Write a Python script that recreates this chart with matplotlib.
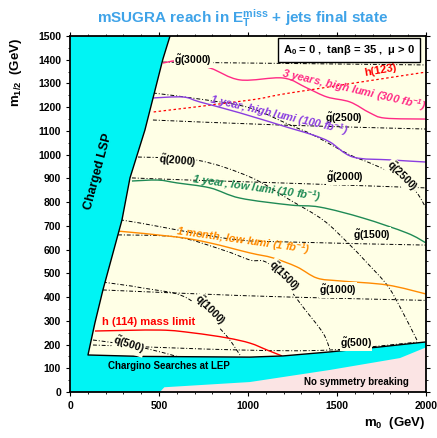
import matplotlib
matplotlib.use("Agg")
import matplotlib.pyplot as plt
import numpy as np
from matplotlib.ticker import MultipleLocator
from matplotlib.path import Path
from matplotlib.patches import PathPatch

plt.rcParams['font.family'] = ['Liberation Sans', 'DejaVu Sans']
plt.rcParams['font.weight'] = 'bold'
plt.rcParams['mathtext.fontset'] = 'custom'
plt.rcParams['mathtext.rm'] = 'Liberation Sans:bold'
plt.rcParams['mathtext.it'] = 'Liberation Sans:bold:italic'
plt.rcParams['mathtext.bf'] = 'Liberation Sans:bold'

# ---- excluded regions ----
lsp_m0 = [562, 522, 421, 337, 292, 185, 140, 101]
lsp_m12 = [1500, 1403, 1104, 902, 725, 430, 291, 156]
lep_m0 = [101, 400, 1011, 1197, 1461, 1742, 2000]
lep_m12 = [156, 150, 147, 152, 169, 190, 211]
nosb_m0 = [505, 530, 1011, 1461, 1854, 2000]
nosb_m12 = [0, 20, 42, 93, 143, 188]

# ---- 5 sigma discovery contours ----
reach_300_m0 = [522, 618, 787, 955, 1197, 1331, 1444, 1573, 1685, 1770, 2000]
reach_300_m12 = [1386, 1395, 1365, 1315, 1323, 1281, 1243, 1222, 1176, 1154, 1150]
reach_100_m0 = [466, 635, 730, 955, 1236, 1365, 1461, 1590, 1798, 2000]
reach_100_m12 = [1239, 1243, 1222, 1176, 1112, 1083, 1053, 990, 978, 969]
reach_10_m0 = [348, 494, 601, 787, 955, 1236, 1404, 1646, 1893, 2000]
reach_10_m12 = [889, 893, 881, 860, 817, 788, 779, 733, 670, 628]
reach_1_m0 = [270, 601, 787, 1011, 1140, 1275, 1388, 1517, 1781, 2000]
reach_1_m12 = [678, 653, 628, 586, 565, 527, 480, 468, 451, 413]

# ---- Higgs mass contours ----
h114_m0 = [140, 506, 691, 882, 1011, 1107, 1191]
h114_m12 = [257, 261, 249, 228, 206, 177, 152]
h123_m0 = [470, 1011, 1236, 2000]
h123_m12 = [1180, 1230, 1260, 1348]

# ---- gluino iso-mass lines ----
gluino_masses = [500, 1000, 1500, 2000, 2500, 3000]
gluino_m0 = [[129, 955, 1461, 1949],
             [185, 730, 1236, 2000],
             [281, 393, 899, 1236, 2000],
             [348, 674, 1180, 2000],
             [466, 1180, 2000],
             [522, 1011, 2000]]
gluino_m12 = [[198, 177, 177, 210],
              [430, 413, 400, 386],
              [725, 712, 645, 632, 619],
              [902, 893, 881, 860],
              [1146, 1125, 1108],
              [1390, 1386, 1378]]
gluino_label_m0 = [1607, 1506, 1697, 1545, 1539, 693]
gluino_label_m12 = [206, 430, 662, 906, 1155, 1399]

# ---- squark iso-mass lines ----
squark_masses = [500, 1000, 1500, 2000, 2500]
squark_m0 = [[129, 250, 420, 600],
             [185, 410, 657, 860, 955],
             [270, 601, 860, 1011, 1124, 1309, 1421, 1461],
             [382, 713, 1011, 1236, 1421, 1556, 1669, 1781, 1854, 1949],
             [466, 770, 1011, 1236, 1365, 1573, 1685, 1865, 1949, 2000]]
squark_m12 = [[219, 207, 185, 150],
              [463, 438, 396, 253, 156],
              [662, 653, 598, 556, 535, 358, 249, 177],
              [990, 977, 906, 809, 725, 632, 544, 451, 358, 219],
              [1260, 1230, 1197, 1125, 1083, 999, 965, 902, 839, 775]]
squark_label_m0 = [331, 787, 1202, 601, 1865]
squark_label_m12 = [198, 345, 489, 973, 910]
squark_label_rot = [-18, -45, -45, -5, -45]

bg = '#ffffe6'
cyan = '#00f4f4'
pink_fill = '#fbe4e4'


def smooth_curve(ax, xs, ys, **kw):
    """Draw a curve through the given points as a Catmull-Rom cubic Bezier path."""
    p = np.column_stack([xs, ys]).astype(float)
    verts = [p[0]]
    codes = [Path.MOVETO]
    n = len(p)
    for i in range(n - 1):
        p0 = p[i - 1] if i > 0 else p[i]
        p1, p2 = p[i], p[i + 1]
        p3 = p[i + 2] if i + 2 < n else p[i + 1]
        c1 = p1 + (p2 - p0) / 6.0
        c2 = p2 - (p3 - p1) / 6.0
        verts += [c1, c2, p2]
        codes += [Path.CURVE4] * 3
    ax.add_patch(PathPatch(Path(verts, codes), fill=False, **kw))


fig = plt.figure(figsize=(4.37, 4.38), dpi=100)
ax = fig.add_axes([70/437, 1 - 392/438, 356/437, 356/438])
ax.set_facecolor(bg)
ax.set_xlim(0, 2000)
ax.set_ylim(0, 1500)

dashdot = (0, (4, 2, 1, 2))
for xs, ys in zip(gluino_m0, gluino_m12):
    smooth_curve(ax, xs, ys, edgecolor='black', lw=0.7, ls=dashdot, zorder=2)
for xs, ys in zip(squark_m0, squark_m12):
    smooth_curve(ax, xs, ys, edgecolor='black', lw=0.7, ls=dashdot, zorder=2)

smooth_curve(ax, h123_m0, h123_m12, edgecolor='red', lw=0.9, ls=(0, (2, 2)), zorder=3)
smooth_curve(ax, h114_m0, h114_m12, edgecolor='red', lw=1.0, zorder=3)
smooth_curve(ax, reach_300_m0, reach_300_m12, edgecolor='#ff2a85', lw=1.0, zorder=3)
smooth_curve(ax, reach_100_m0, reach_100_m12, edgecolor='#8a3ee0', lw=1.0, zorder=3)
smooth_curve(ax, reach_10_m0, reach_10_m12, edgecolor='#1f8a55', lw=1.0, zorder=3)
smooth_curve(ax, reach_1_m0, reach_1_m12, edgecolor='#ff8a00', lw=1.0, zorder=3)

# excluded area: charged LSP + LEP chargino searches
region_x = [0, 0] + lsp_m0 + lep_m0[1:] + [2000]
region_y = [0, 1500] + lsp_m12 + lep_m12[1:] + [0]
ax.fill(region_x, region_y, color=cyan, lw=0, zorder=4)
ax.fill(nosb_m0 + [2000], nosb_m12 + [0], color=pink_fill, lw=0, zorder=4)
ax.plot(lsp_m0 + lep_m0[1:], lsp_m12 + lep_m12[1:], color='black', lw=1.0, zorder=5)

lab_bbox = dict(facecolor=bg, edgecolor='none', pad=0.3)
for m, x, y in zip(gluino_masses, gluino_label_m0, gluino_label_m12):
    ax.text(x, y, r'$\tilde{\mathrm{g}}$(%d)' % m, fontsize=7.5, ha='center', va='center',
            bbox=lab_bbox, zorder=6)
for m, x, y, r in zip(squark_masses, squark_label_m0, squark_label_m12, squark_label_rot):
    ax.text(x, y, r'$\tilde{\mathrm{q}}$(%d)' % m, fontsize=7.5, ha='center', va='center',
            rotation=r, rotation_mode='anchor', bbox=lab_bbox, zorder=6)

ax.text(1742, 1357, 'h(123)', color='red', fontsize=8, rotation=10,
        ha='center', va='center', zorder=6)
ax.text(444, 295, 'h (114) mass limit', color='red', fontsize=8,
        ha='center', va='center', zorder=6)
ax.text(1596, 1272, r'3 years, high lumi (300 fb$^{\mathregular{-1}}$)', color='#ff2a85',
        fontsize=8, style='italic', rotation=-13, ha='center', va='center', zorder=6)
ax.text(1174, 1167, r'1 year, high lumi (100 fb$^{\mathregular{-1}}$)', color='#8a3ee0',
        fontsize=8, style='italic', rotation=-13, ha='center', va='center', zorder=6)
ax.text(1051, 860, r'1 year, low lumi (10 fb$^{\mathregular{-1}}$)', color='#1f8a55',
        fontsize=8, style='italic', rotation=-8, ha='center', va='center', zorder=6)
ax.text(972, 640, r'1 month, low lumi (1 fb$^{\mathregular{-1}}$)', color='#ff8a00',
        fontsize=8, style='italic', rotation=-8, ha='center', va='center', zorder=6)

ax.text(157, 927, 'Charged LSP', fontsize=9, rotation=75,
        ha='center', va='center', zorder=6)
ax.text(556, 110, 'Chargino Searches at LEP', fontsize=7, ha='center', va='center', zorder=6)
ax.text(1612, 42, 'No symmetry breaking', fontsize=7, ha='center', va='center', zorder=6)
ax.text(1567, 1441, r'$\mathrm{A_0}$ = 0 ,  tanβ = 35 ,  μ > 0', fontsize=8,
        ha='center', va='center', zorder=7,
        bbox=dict(facecolor='white', edgecolor='black', lw=1.0, pad=3.5))

ax.xaxis.set_major_locator(MultipleLocator(500))
ax.xaxis.set_minor_locator(MultipleLocator(100))
ax.yaxis.set_major_locator(MultipleLocator(100))
ax.yaxis.set_minor_locator(MultipleLocator(50))
ax.tick_params(which='both', direction='out', labelsize=7.5, top=True, right=True)
ax.tick_params(which='major', length=3, width=0.8)
ax.tick_params(which='minor', length=1.5, width=0.6)
for lab in ax.get_xticklabels() + ax.get_yticklabels():
    lab.set_fontweight('bold')
for sp in ax.spines.values():
    sp.set_linewidth(1.3)
    sp.set_zorder(8)

fig.text(425/437, 1 - 423/438, r'm$_\mathrm{0}$  (GeV)', fontsize=9.5, ha='right', va='center')
fig.text(16/437, 1 - 72/438, r'm$_\mathrm{1/2}$  (GeV)', fontsize=9.5, rotation=90,
         ha='center', va='center')
fig.text(243/437, 1 - 18/438, r'mSUGRA reach in E$_\mathrm{T}^\mathrm{miss}$ + jets final state',
         fontsize=11, color='#3fa3e8', ha='center', va='center')

fig.savefig('out.png', dpi=100, facecolor='white')
